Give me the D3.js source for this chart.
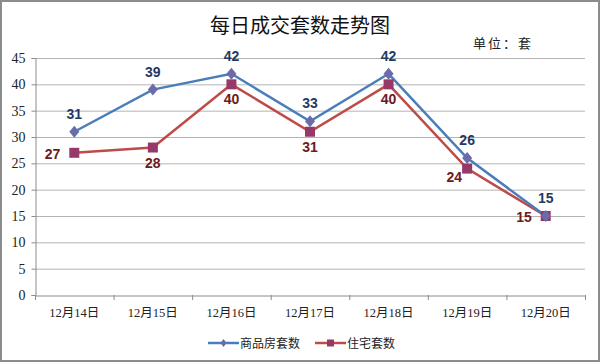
<!DOCTYPE html>
<html><head><meta charset="utf-8">
<script src="https://cdn.jsdelivr.net/npm/d3@7"></script>
<style>body{margin:0;background:#fff}svg{display:block}</style>
</head><body>
<script>
const categories = ["12月14日","12月15日","12月16日","12月17日","12月18日","12月19日","12月20日"];
const seriesNames = ["商品房套数","住宅套数"];
const commercial = [31,39,42,33,42,26,15];
const residential = [27,28,40,31,40,24,15];
const yTicks = [0,5,10,15,20,25,30,35,40,45];
const resLabelPos = ["left","below","below","below","below","leftbelow","left"];

const W=600,H=362;
const svg=d3.select("body").append("svg").attr("width",W).attr("height",H);
svg.append("rect").attr("x",1).attr("y",1).attr("width",W-2).attr("height",H-2).attr("fill","#fff").attr("stroke","#8c8c8c").attr("stroke-width",2);

const m={l:35,r:585,t:58,b:295};
const x=d3.scaleBand().domain(categories).range([m.l,m.r]);
const y=d3.scaleLinear().domain([0,45]).range([m.b,m.t]);

// gridlines
svg.append("g").selectAll("line").data(yTicks.filter(d=>d>0)).join("line")
  .attr("x1",m.l).attr("x2",m.r).attr("y1",d=>y(d)+0.5).attr("y2",d=>y(d)+0.5)
  .attr("stroke","#b3b3b3").attr("stroke-width",1);

// y axis
const ya=svg.append("g").attr("transform",`translate(${m.l+0.5},0)`)
  .call(d3.axisLeft(y).tickValues(yTicks).tickSize(4).tickPadding(6));
ya.select(".domain").attr("stroke","#8c8c8c");
ya.selectAll(".tick line").attr("stroke","#8c8c8c");
ya.selectAll("text").style("font-family","'Liberation Serif', 'DejaVu Serif', serif").style("font-size","14px").attr("fill","#222");

// x axis
const xa=svg.append("g").attr("transform",`translate(0,${m.b+0.5})`)
  .call(d3.axisBottom(x).tickSize(0).tickPadding(13));
xa.select(".domain").attr("stroke","#8c8c8c");
xa.selectAll("text").style("font-family","'Liberation Serif', 'Noto Sans CJK SC', serif").style("font-size","12.5px").attr("fill","#222");
svg.append("g").selectAll("line").data(d3.range(categories.length+1)).join("line")
  .attr("x1",i=>m.l+i*x.step()+0.5).attr("x2",i=>m.l+i*x.step()+0.5)
  .attr("y1",m.b).attr("y2",m.b+5).attr("stroke","#8c8c8c");

const cx=d=>x(d)+x.bandwidth()/2;
const line=d3.line();
const blueC="#4a7ebb", blueM="#6b6baa", redC="#be4b48", redM="#953a68";

svg.append("path").attr("d",line(categories.map((c,i)=>[cx(c),y(residential[i])])))
  .attr("fill","none").attr("stroke",redC).attr("stroke-width",2.5);
svg.append("path").attr("d",line(categories.map((c,i)=>[cx(c),y(commercial[i])])))
  .attr("fill","none").attr("stroke",blueC).attr("stroke-width",2.5);

svg.append("g").selectAll("rect").data(categories).join("rect")
  .attr("x",(c)=>cx(c)-5).attr("y",(c,i)=>y(residential[i])-5).attr("width",10).attr("height",10)
  .attr("fill",redM);
svg.append("g").selectAll("path").data(categories).join("path")
  .attr("d",(c,i)=>{const px=cx(c),py=y(commercial[i]);return `M${px},${py-6}L${px+5},${py}L${px},${py+6}L${px-5},${py}Z`;})
  .attr("fill",blueM);

// labels
svg.append("g").selectAll("text").data(categories).join("text")
  .attr("x",c=>cx(c)).attr("y",(c,i)=>y(commercial[i])-13)
  .attr("text-anchor","middle").attr("font-family","Liberation Sans, Arial, sans-serif")
  .attr("font-weight","bold").attr("font-size",14).attr("fill","#1f3a64")
  .text((c,i)=>commercial[i]);
svg.append("g").selectAll("text").data(categories).join("text")
  .attr("x",(c,i)=>{const p=resLabelPos[i];return p==="left"?cx(c)-14:p==="leftbelow"?cx(c)-5:cx(c);})
  .attr("y",(c,i)=>{const p=resLabelPos[i];const py=y(residential[i]);return p==="left"?py+6:p==="leftbelow"?py+13:py+20;})
  .attr("text-anchor",(c,i)=>resLabelPos[i]==="below"?"middle":"end")
  .attr("font-family","Liberation Sans, Arial, sans-serif")
  .attr("font-weight","bold").attr("font-size",14).attr("fill","#6e1a1a")
  .text((c,i)=>residential[i]);

// title
svg.append("text").attr("x",300).attr("y",33).attr("text-anchor","middle")
  .attr("font-family","Noto Sans CJK SC, sans-serif").attr("font-size",20).attr("fill","#111")
  .text("每日成交套数走势图");
svg.append("text").attr("x",473).attr("y",48)
  .attr("font-family","Noto Sans CJK SC, sans-serif").attr("font-size",13).attr("fill","#222")
  .attr("letter-spacing",2)
  .text("单位：套");

// legend
const lg=svg.append("g").attr("font-family","Noto Sans CJK SC, sans-serif").attr("font-size",12).attr("fill","#222");
const ly=343;
lg.append("line").attr("x1",208).attr("x2",239).attr("y1",ly).attr("y2",ly).attr("stroke",blueC).attr("stroke-width",2.5);
lg.append("path").attr("d",`M223.5,${ly-4}L226.5,${ly}L223.5,${ly+4}L220.5,${ly}Z`).attr("fill",blueM);
lg.append("text").attr("x",240).attr("y",ly+4.5).text(seriesNames[0]);
lg.append("line").attr("x1",315).attr("x2",346).attr("y1",ly).attr("y2",ly).attr("stroke",redC).attr("stroke-width",2.5);
lg.append("rect").attr("x",327).attr("y",ly-3.5).attr("width",7).attr("height",7).attr("fill",redM);
lg.append("text").attr("x",347).attr("y",ly+4.5).text(seriesNames[1]);
</script>
</body></html>
